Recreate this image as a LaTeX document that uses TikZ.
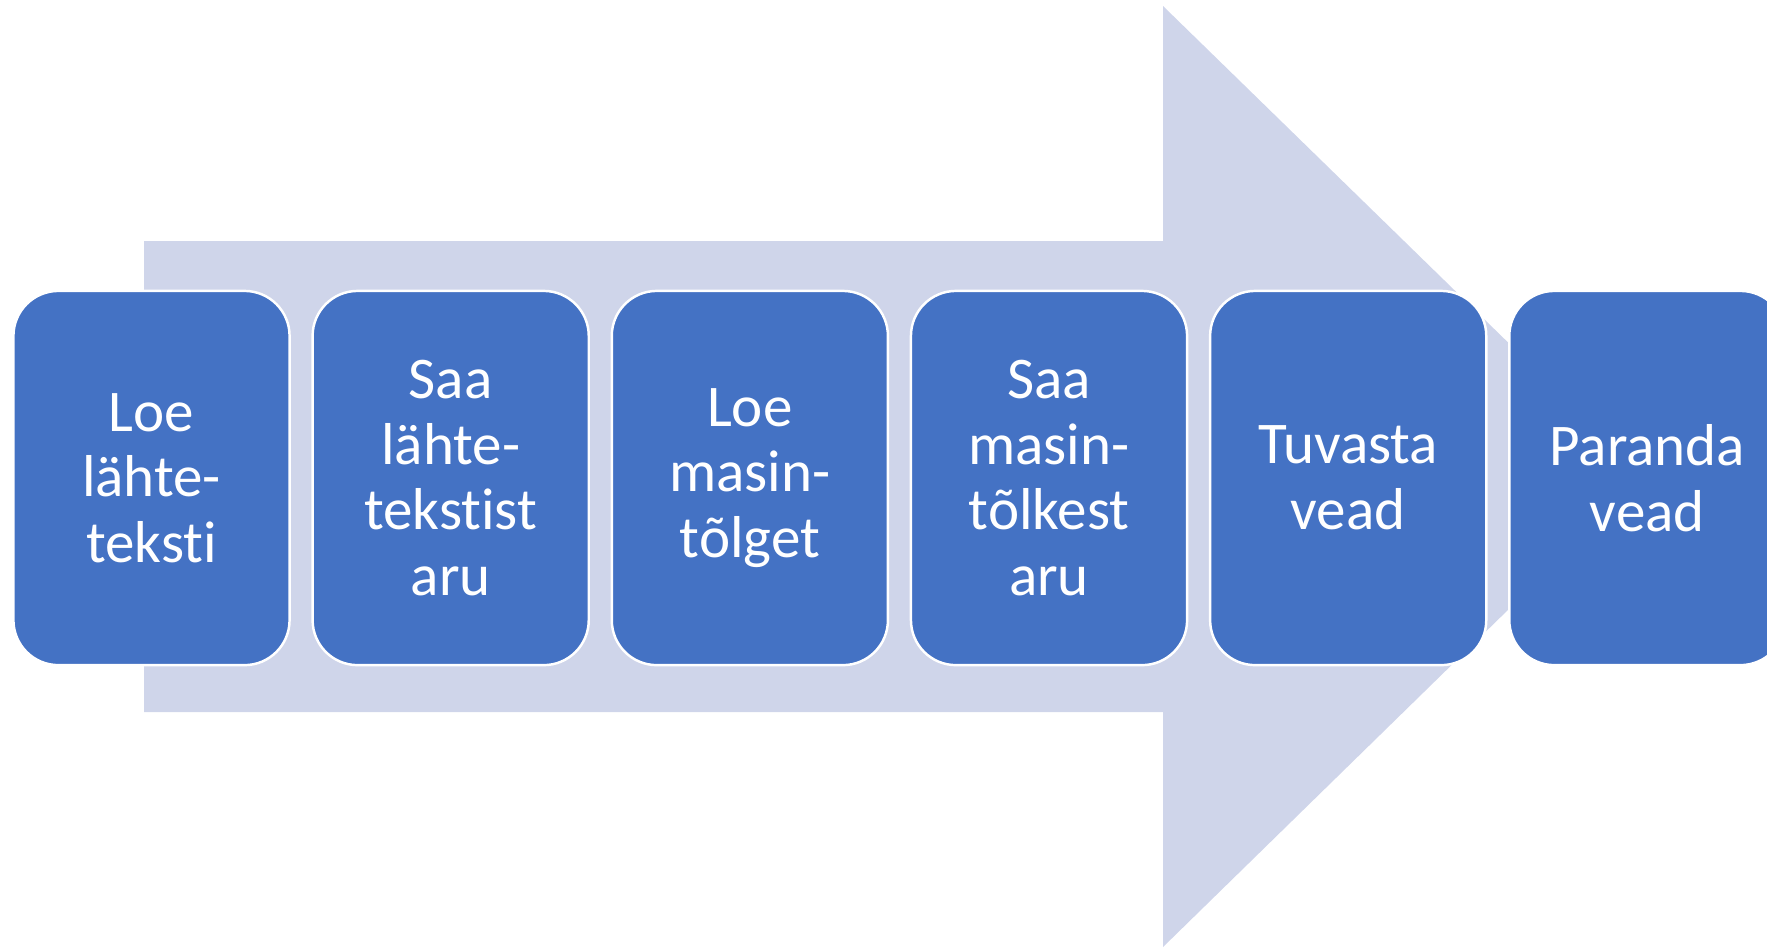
\documentclass[tikz,border=0pt]{standalone}
\usepackage{fontspec}
\setmainfont{Carlito}[RawFeature={-liga}]
\usetikzlibrary{positioning}
\definecolor{stepblue}{HTML}{4472C4}
\definecolor{flowgrey}{HTML}{CFD5EA}

\begin{document}
\begin{tikzpicture}[
    x=0.01cm, y=-0.01cm,
    every node/.style={font=\fontsize{16.8}{18.7}\selectfont},
    stepbox/.style={rectangle, rounded corners=0.45cm, draw=white, line width=0.7pt,
        fill=stepblue, text=white, outer sep=0pt,
        minimum width=2.76cm, minimum height=3.74cm, align=center},
]
\useasboundingbox (0,0) rectangle (1767,947);
\clip (0,0) rectangle (1767,947);

% Background arrow
\fill[flowgrey] (144,241) -- (1163,241) -- (1163,6) -- (1645,476) -- (1163,947)
    -- (1163,712) -- (144,712) -- cycle;

% Process steps, left to right
\node[stepbox] (readsrc) at (151.5,478) {Loe\\lähte-\\teksti};
\node[stepbox, right=0.23cm of readsrc] (getsrc) {Saa\\lähte-\\tekstist\\aru};
\node[stepbox, right=0.23cm of getsrc] (readmt) {Loe\\masin-\\tõlget};
\node[stepbox, right=0.23cm of readmt] (getmt) {Saa\\masin-\\tõlkest\\aru};
\node[stepbox, right=0.23cm of getmt] (detect) {Tuvasta\\vead};
\node[stepbox, right=0.23cm of detect] (fix) {Paranda\\vead};
\end{tikzpicture}
\end{document}
